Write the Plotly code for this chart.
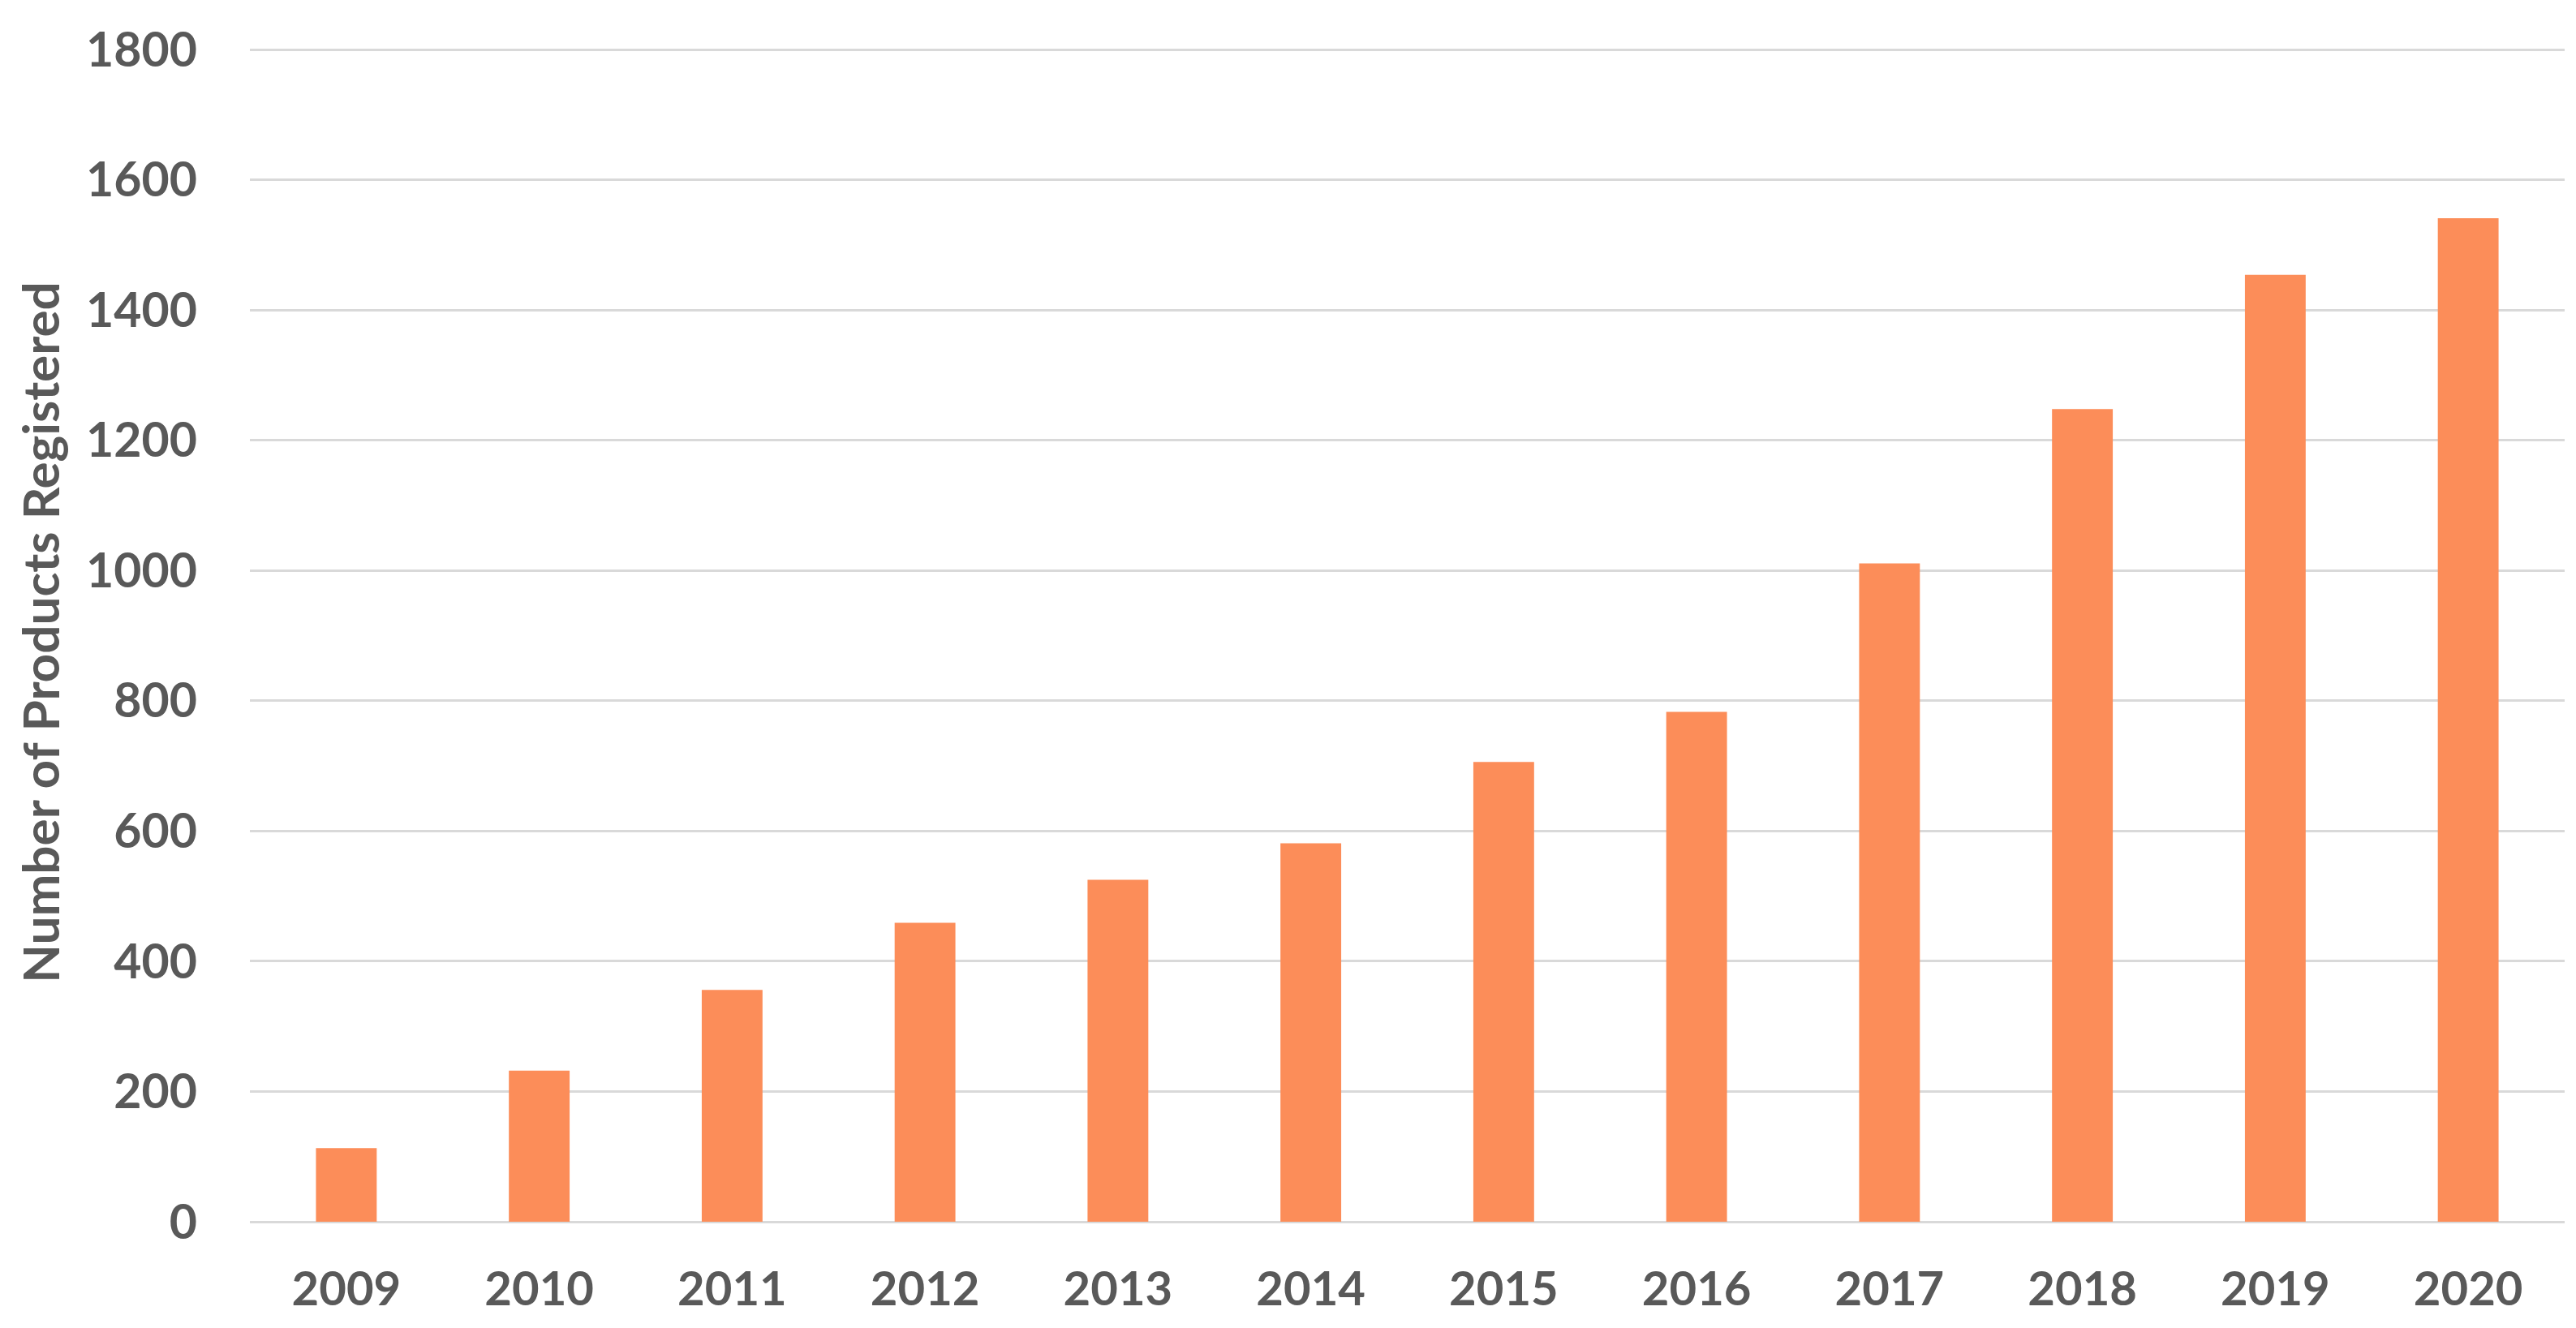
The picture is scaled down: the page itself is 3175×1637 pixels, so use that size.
import plotly.graph_objects as go

years = ["2009", "2010", "2011", "2012", "2013", "2014", "2015", "2016", "2017", "2018", "2019", "2020"]
products = [113, 232, 356, 459, 525, 581, 706, 783, 1011, 1248, 1454, 1541]
y_ticks = [0, 200, 400, 600, 800, 1000, 1200, 1400, 1600, 1800]

bar_color = "#FC8D59"
text_color = "#595959"
grid_color = "#D9D9D9"
font_family = "Lato"

fig = go.Figure(
    go.Bar(
        x=years,
        y=products,
        marker=dict(color=bar_color, line=dict(width=0)),
        width=0.315,
    )
)

fig.update_layout(
    width=3175,
    height=1637,
    paper_bgcolor="white",
    plot_bgcolor="white",
    showlegend=False,
    margin=dict(l=308, r=14, t=53, b=131, autoexpand=False),
    font=dict(family=font_family, color=text_color, size=58, weight="bold"),
)

fig.update_xaxes(
    type="category",
    showgrid=False,
    showline=False,
    zeroline=False,
    ticks="",
    ticklabelstandoff=44,
    tickfont=dict(family=font_family, size=58, color=text_color, weight="bold"),
)

fig.update_yaxes(
    range=[0, 1810],
    tickvals=y_ticks,
    ticktext=[str(v) for v in y_ticks],
    showgrid=True,
    gridcolor=grid_color,
    gridwidth=3,
    zeroline=True,
    zerolinecolor=grid_color,
    zerolinewidth=3,
    showline=False,
    ticks="",
    ticklabelstandoff=64,
    tickfont=dict(family=font_family, size=59, color=text_color, weight="bold"),
    title=dict(
        text="Number of Products Registered",
        font=dict(family=font_family, size=62, color=text_color, weight="bold"),
        standoff=12,
    ),
    automargin=False,
)

fig.write_html(
    "out.html",
    config={"displayModeBar": False},
    post_script="document.body.style.margin='0';document.body.style.padding='0';",
)
